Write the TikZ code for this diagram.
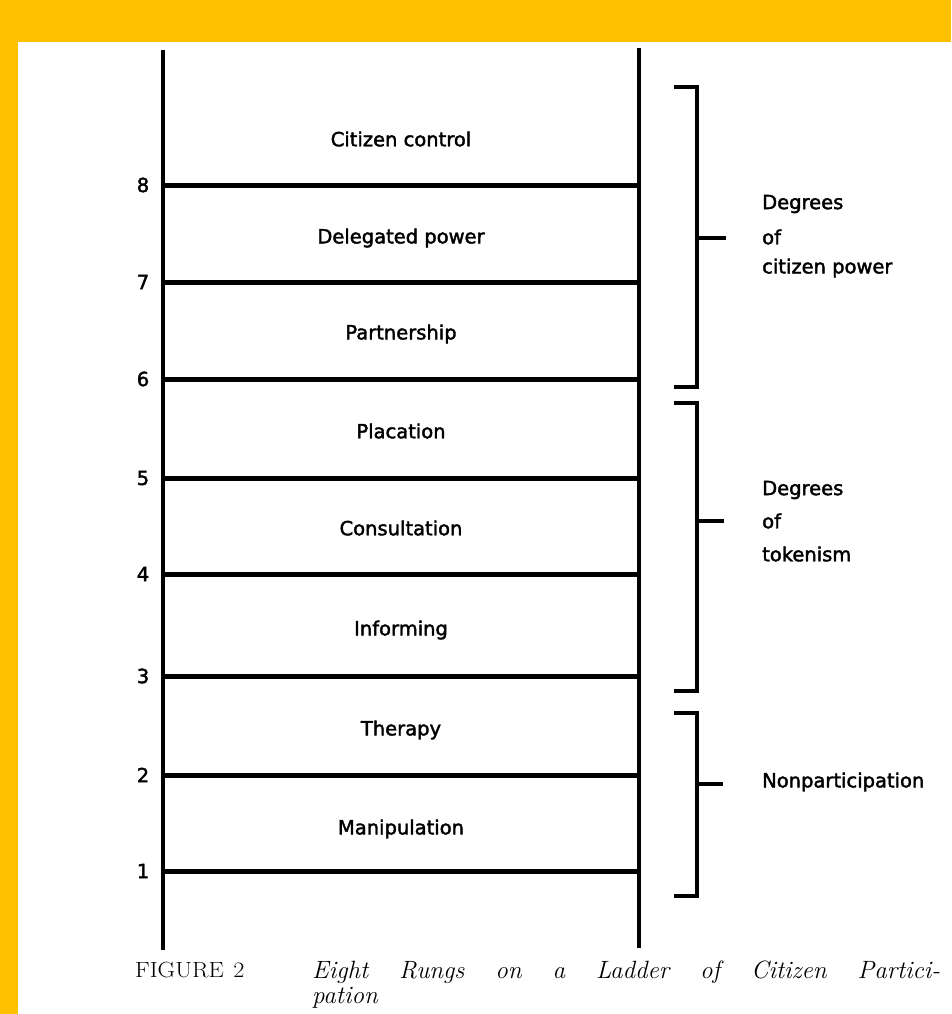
\documentclass[tikz,border=0pt]{standalone}
\usepackage{fontspec}
\newfontfamily\lsans{DejaVu Sans}[FakeBold=2]
\definecolor{frameyellow}{RGB}{255,192,0}
\begin{document}
\begin{tikzpicture}[x=1pt,y=-1pt,
  rail/.style={line width=4pt},
  rung/.style={line width=5pt},
  brak/.style={line width=4pt,line join=miter},
  lbl/.style={font=\lsans\fontsize{19.5}{23}\selectfont, inner sep=0pt},
  num/.style={lbl},
  grp/.style={lbl, anchor=west},
  capfont/.style={inner sep=0pt, anchor=base west, font=\fontsize{22}{26}\selectfont\addfontfeature{FakeBold=1}},
  capit/.style={inner sep=0pt, anchor=base west, font=\fontsize{25}{28}\selectfont\itshape\addfontfeature{LetterSpace=8,FakeBold=1}},
]
\fill[frameyellow] (0,0) rectangle (951,1014);
\fill[white] (18,42) rectangle (951,1014);
\useasboundingbox (0,0) rectangle (951,1014);
% rails
\coordinate (LT) at (163,50); \coordinate (LB) at (163,950);
\coordinate (RT) at (639,48); \coordinate (RB) at (639,948);
\draw[rail] (LT) -- (LB);
\draw[rail] (RT) -- (RB);
% rungs and numbers
\foreach \n/\y in {1/871,2/775,3/676,4/574,5/478,6/379,7/282,8/185}{
  \coordinate (rl\n) at (163,\y);
  \coordinate (rr\n) at (639,\y);
  \draw[rung] (rl\n) -- (rr\n);
  \node[num] (num\n) at (143,\y) {\n};
}
% rung labels
\foreach \k/\y/\t in {8/139/Citizen control,7/238/Delegated power,6/334/Partnership,5/431/Placation,4/528/Consultation,3/630/Informing,2/730/Therapy,1/829/Manipulation}{
  \node[lbl] (lab\k) at (401,\y) {\t};
}
% brackets
\draw[brak] (674,87) -- (697,87) -- (697,387) -- (674,387);
\draw[brak] (697,238) -- (726,238);
\draw[brak] (674,403) -- (697,403) -- (697,691) -- (674,691);
\draw[brak] (697,521) -- (724,521);
\draw[brak] (674,713) -- (697,713) -- (697,896) -- (674,896);
\draw[brak] (697,784) -- (723,784);
% group texts
\node[grp] (g1a) at (762,204) {Degrees};
\node[grp] (g1b) at (762,237) {of};
\node[grp] (g1c) at (762,268) {citizen power};
\node[grp] (g2a) at (762,490) {Degrees};
\node[grp] (g2b) at (762,521) {of};
\node[grp] (g2c) at (762,554) {tokenism};
\node[grp] (g3) at (762,782) {Nonparticipation};
% caption
\node[capfont] (fig) at (135,977) {\scalebox{1.1}[1]{FIGURE\hspace{0.4em}2}};
\node[capit] (cap1) at (312,978) {\makebox[628pt][s]{Eight Rungs on a Ladder of Citizen Partici-}};
\node[capit] (cap2) at (312,1003) {pation};
\end{tikzpicture}
\end{document}
